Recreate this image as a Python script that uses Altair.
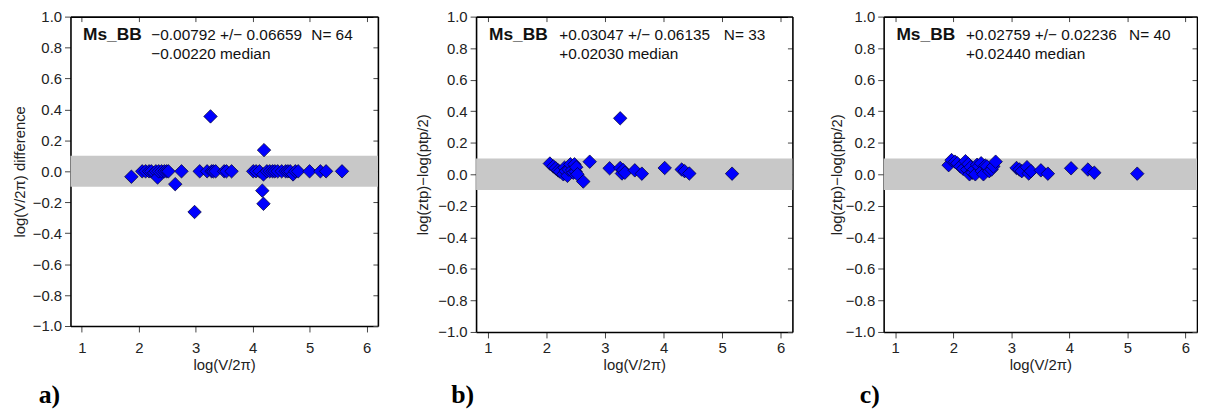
import altair as alt
import pandas as pd

# ---------------- data ----------------
X_DOMAIN = [0.8, 6.2]
Y_DOMAIN = [-1.0, 1.0]
X_TICKS = [1, 2, 3, 4, 5, 6]
Y_TICKS = [-1.0, -0.8, -0.6, -0.4, -0.2, 0.0, 0.2, 0.4, 0.6, 0.8, 1.0]
BAND_LO = -0.1
BAND_HI = 0.1

# panel a
a_x = [1.87, 2.06, 2.12, 2.18, 2.22, 2.27, 2.30, 2.33, 2.35, 2.40, 2.45, 2.49, 2.52,
       2.64, 2.75, 2.98, 3.07, 3.20, 3.26, 3.28, 3.31, 3.35, 3.50, 3.54, 3.63,
       4.01, 4.06, 4.12, 4.20, 4.19, 4.17, 4.19, 4.25, 4.30, 4.35, 4.39, 4.44,
       4.51, 4.58, 4.62, 4.66, 4.71, 4.75, 4.80, 5.00, 5.19, 5.29, 5.57]
a_y = [-0.035, 0.0, 0.0, 0.0, 0.0, -0.01, 0.0, -0.04, 0.0, 0.0, 0.0, 0.0, 0.0,
       -0.083, 0.0, -0.263, 0.0, 0.0, 0.355, 0.0, 0.0, 0.0, 0.0, 0.0, 0.0,
       0.0, 0.0, 0.0, 0.137, -0.02, -0.125, -0.21, 0.0, 0.0, 0.0, 0.0, 0.0,
       0.0, 0.0, 0.0, 0.0, -0.02, 0.0, 0.0, 0.0, 0.0, 0.0, 0.0]

# panel b
b_x = [2.06, 2.12, 2.16, 2.20, 2.23, 2.29, 2.31, 2.33, 2.36, 2.38, 2.41, 2.44, 2.46,
       2.48, 2.50, 2.51, 2.53, 2.63, 2.74, 3.08, 3.26, 3.26, 3.29, 3.31, 3.34,
       3.51, 3.63, 4.02, 4.31, 4.36, 4.44, 5.17]
b_y = [0.068, 0.05, 0.038, 0.025, 0.017, 0.0, 0.042, 0.02, -0.01, 0.03, 0.063, 0.027, 0.01,
       0.063, 0.017, 0.045, 0.0, -0.046, 0.08, 0.038, 0.355, 0.04, 0.005, 0.027, 0.01,
       0.025, 0.004, 0.04, 0.03, 0.02, 0.005, 0.004]

# panel c
c_x = [1.92, 1.97, 2.03, 2.07, 2.12, 2.17, 2.21, 2.24, 2.26, 2.28, 2.30, 2.33, 2.36,
       2.38, 2.41, 2.44, 2.48, 2.49, 2.52, 2.55, 2.58, 2.62, 2.66, 2.69, 2.73,
       3.09, 3.14, 3.18, 3.27, 3.30, 3.34, 3.51, 3.63, 4.03, 4.32, 4.43, 5.17]
c_y = [0.058, 0.09, 0.08, 0.07, 0.05, 0.035, 0.083, 0.03, 0.065, 0.0, 0.045, 0.01, 0.03,
       0.0, 0.06, 0.05, 0.07, 0.02, 0.0, 0.055, 0.05, 0.02, 0.03, 0.05, 0.08,
       0.04, 0.03, 0.02, 0.045, 0.005, 0.02, 0.025, 0.004, 0.038, 0.03, 0.01, 0.004]

# annotation texts
names = ["Ms_BB", "Ms_BB", "Ms_BB"]
stats_line1 = ["\u22120.00792 +/\u2212 0.06659", "+0.03047 +/\u2212 0.06135", "+0.02759 +/\u2212 0.02236"]
stats_line2 = ["\u22120.00220 median", "+0.02030 median", "+0.02440 median"]
n_labels = ["N= 64", "N= 33", "N= 40"]
y_titles = ["log(V/2\u03c0) difference", "log(ztp)\u2212log(ptp/2)", "log(ztp)\u2212log(ptp/2)"]
x_title = "log(V/2\u03c0)"
letters = ["a)", "b)", "c)"]

# annotation anchor positions (data coordinates)
ANN_X = [1.02, 2.22, 5.03]
ANN_Y = [0.88, 0.76]

FONT = "Liberation Sans"
FRAME = dict(domain=True, domainColor="black", domainWidth=1.6)


def panel(xs, ys, i, W, H, dx, tpad, xlabpad):
    pts = pd.DataFrame({"x": xs, "y": ys})
    band = pd.DataFrame({"lo": [BAND_LO], "hi": [BAND_HI]})
    xs_ = alt.Scale(domain=X_DOMAIN, nice=False, zero=False)
    ys_ = alt.Scale(domain=Y_DOMAIN, nice=False, zero=False)

    band_layer = alt.Chart(band).mark_rect(color="#c8c8c8").encode(
        y=alt.Y("lo:Q", scale=ys_, axis=None),
        y2="hi:Q",
        x=alt.value(0),
        x2=alt.value(W),
    )

    main_axis_x = alt.Axis(orient="bottom", values=X_TICKS, format="d",
                           grid=False, tickSize=6, tickColor="#444", labelFontSize=15,
                           labelColor="#222", labelFont=FONT, labelPadding=xlabpad,
                           title=x_title, titleFont=FONT, titleFontSize=15,
                           titleFontWeight="normal", titleColor="#222", titlePadding=2,
                           **FRAME)
    main_axis_y = alt.Axis(orient="left", values=Y_TICKS, format=".1f",
                           grid=False, tickSize=6, tickColor="#444", labelFontSize=15,
                           labelColor="#222", labelFont=FONT, labelPadding=3,
                           title=y_titles[i], titleFont=FONT, titleFontSize=15,
                           titleFontWeight="normal", titleColor="#222", titlePadding=tpad,
                           **FRAME)

    pts_layer = alt.Chart(pts).mark_point(
        shape="diamond", filled=True, fill="#0000ff", stroke="#00002a",
        strokeWidth=0.7, opacity=1, size=185,
    ).encode(
        x=alt.X("x:Q", scale=xs_, axis=main_axis_x),
        y=alt.Y("y:Q", scale=ys_, axis=main_axis_y),
    )

    # inward ticks on top and right
    tick_layer = alt.Chart(pts).mark_point(opacity=0, size=1).encode(
        x=alt.X("x:Q", scale=xs_, axis=alt.Axis(orient="top", values=X_TICKS, labels=False,
                domain=False, grid=False, tickSize=5, offset=-5, tickColor="#444", title=None)),
        y=alt.Y("y:Q", scale=ys_, axis=alt.Axis(orient="right", values=Y_TICKS, labels=False,
                domain=False, grid=False, tickSize=5, offset=-5, tickColor="#444", title=None)),
    )

    # frame lines on top and right
    frame_layer = alt.Chart(pts).mark_point(opacity=0, size=1).encode(
        x=alt.X("x:Q", scale=xs_, axis=alt.Axis(orient="top", labels=False, ticks=False,
                grid=False, title=None, **FRAME)),
        y=alt.Y("y:Q", scale=ys_, axis=alt.Axis(orient="right", labels=False, ticks=False,
                grid=False, title=None, **FRAME)),
    )

    t_bold = pd.DataFrame({"x": [ANN_X[0]], "y": [ANN_Y[0]], "t": [names[i]]})
    t_norm = pd.DataFrame({
        "x": [ANN_X[1], ANN_X[2], ANN_X[1]],
        "y": [ANN_Y[0], ANN_Y[0], ANN_Y[1]],
        "t": [stats_line1[i], n_labels[i], stats_line2[i]],
    })
    bold_layer = alt.Chart(t_bold).mark_text(
        align="left", baseline="middle", font=FONT, fontSize=17.5, fontWeight="bold",
        color="#111",
    ).encode(x=alt.X("x:Q", scale=xs_, axis=None), y=alt.Y("y:Q", scale=ys_, axis=None),
             text="t:N")
    norm_layer = alt.Chart(t_norm).mark_text(
        align="left", baseline="middle", font=FONT, fontSize=15.5, color="#111",
    ).encode(x=alt.X("x:Q", scale=xs_, axis=None), y=alt.Y("y:Q", scale=ys_, axis=None),
             text="t:N")

    return alt.layer(band_layer, pts_layer, tick_layer, frame_layer, bold_layer,
                     norm_layer).properties(
        width=W, height=H,
        title=alt.TitleParams(text=letters[i], orient="bottom", anchor="start", frame="group",
                              dx=dx, offset=10, font="Liberation Serif", fontSize=26,
                              fontWeight="bold", color="black"),
    )


pa = panel(a_x, a_y, 0, 310, 312, -32, 5, 9)
pb = panel(b_x, b_y, 1, 319, 318, -25, 7.5, 3)
pc = panel(c_x, c_y, 2, 316, 318, -24, 0.5, 3)

chart = alt.hconcat(pa, pb, pc, spacing=36).properties(
    padding={"left": 4, "top": 0, "right": 0, "bottom": 0},
    background="white",
).configure_view(stroke=None)

chart.save("out.html", embed_options={"renderer": "svg", "actions": False})
